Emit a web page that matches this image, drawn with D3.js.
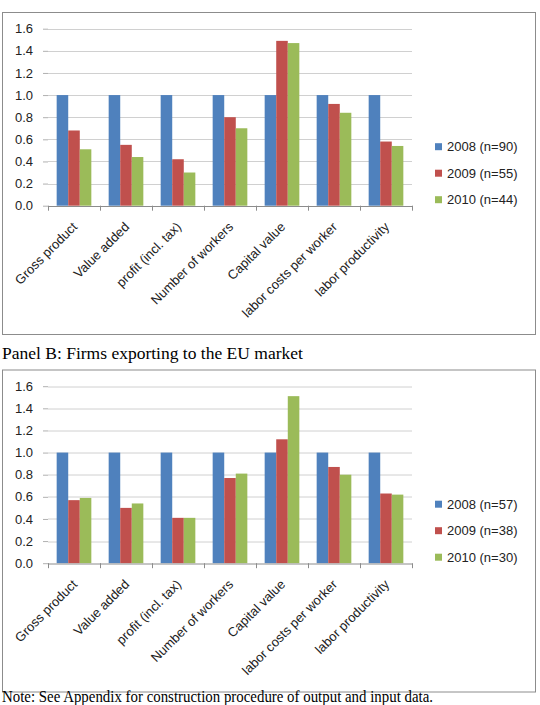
<!DOCTYPE html>
<html>
<head>
<meta charset="utf-8">
<script src="https://cdnjs.cloudflare.com/ajax/libs/d3/7.8.5/d3.min.js"></script>
<style>
  body { margin: 0; background: #fff; }
  svg { display: block; }
  .tick text, .lbl { font-family: "Liberation Sans", Arial, sans-serif; font-size: 13px; fill: #222; }
  .cap { font-family: "Liberation Serif", "Times New Roman", serif; fill: #000; }
</style>
</head>
<body>
<script>
var categories = ["Gross product", "Value added", "profit (incl. tax)", "Number of workers",
  "Capital value", "labor costs per worker", "labor productivity"];
var seriesKeys = ["2008", "2009", "2010"];
var colors = ["#4F81BD", "#C0504D", "#9BBB59"];
var yTicks = [0, 0.2, 0.4, 0.6, 0.8, 1.0, 1.2, 1.4, 1.6];

// Panel A
var a2008 = [1, 1, 1, 1, 1, 1, 1];
var a2009 = [0.68, 0.55, 0.42, 0.80, 1.49, 0.92, 0.58];
var a2010 = [0.51, 0.44, 0.30, 0.70, 1.47, 0.84, 0.54];
var legendA = ["2008 (n=90)", "2009 (n=55)", "2010 (n=44)"];

// Panel B
var b2008 = [1, 1, 1, 1, 1, 1, 1];
var b2009 = [0.57, 0.50, 0.41, 0.77, 1.12, 0.87, 0.63];
var b2010 = [0.59, 0.54, 0.41, 0.81, 1.51, 0.80, 0.62];
var legendB = ["2008 (n=57)", "2009 (n=38)", "2010 (n=30)"];

var W = 540, H = 705;
var svg = d3.select("body").append("svg").attr("width", W).attr("height", H);

var boxW = 533, boxH = 322;
var plotLeft = 46, plotRight = 410, plotTop = 16.7, plotBottom = 193.7;

function drawPanel(top, series, legend) {
  var g = svg.append("g").attr("transform", "translate(2," + top + ")");
  g.append("rect").attr("x", 0.5).attr("y", 0.5).attr("width", boxW).attr("height", boxH)
    .attr("fill", "#fff").attr("stroke", "#8c8c8c");

  var x = d3.scaleBand().domain(categories).range([plotLeft, plotRight]);
  var x1 = d3.scaleBand().domain(seriesKeys).range([0, x.bandwidth()]).paddingOuter(0.75);
  var y = d3.scaleLinear().domain([0, 1.6]).range([plotBottom, plotTop]);

  // gridlines
  g.append("g").selectAll("line").data(yTicks.slice(1)).join("line")
    .attr("x1", plotLeft).attr("x2", plotRight)
    .attr("y1", function (d) { return Math.round(y(d)) + 0.5; })
    .attr("y2", function (d) { return Math.round(y(d)) + 0.5; })
    .attr("stroke", "#d0d0d0");

  // y axis labels
  var yAxis = d3.axisLeft(y).tickValues(yTicks).tickFormat(d3.format(".1f")).tickSize(5).tickPadding(10);
  var ya = g.append("g").attr("transform", "translate(" + plotLeft + ",0)").call(yAxis);
  ya.select(".domain").remove();
  ya.selectAll(".tick line").attr("stroke", "#b0b0b0");

  // bars
  var rows = categories.map(function (c, i) {
    return { cat: c, vals: series.map(function (s) { return s[i]; }) };
  });
  var grp = g.append("g").selectAll("g").data(rows).join("g")
    .attr("transform", function (d) { return "translate(" + x(d.cat) + ",0)"; });
  grp.selectAll("rect").data(function (d) { return d.vals; }).join("rect")
    .attr("x", function (d, i) { return x1(seriesKeys[i]); })
    .attr("width", x1.bandwidth())
    .attr("y", function (d) { return y(d); })
    .attr("height", function (d) { return y(0) - y(d); })
    .attr("fill", function (d, i) { return colors[i]; });

  // x axis line and boundary ticks
  var ax = g.append("g");
  ax.append("line").attr("x1", plotLeft).attr("x2", plotRight)
    .attr("y1", Math.round(y(0)) + 0.5).attr("y2", Math.round(y(0)) + 0.5).attr("stroke", "#8c8c8c");
  var bounds = categories.map(function (c) { return x(c); }).concat([plotRight]);
  ax.selectAll("line.tk").data(bounds).join("line").attr("class", "tk")
    .attr("x1", function (d) { return Math.round(d) + 0.5; })
    .attr("x2", function (d) { return Math.round(d) + 0.5; })
    .attr("y1", y(0)).attr("y2", y(0) + 5).attr("stroke", "#8c8c8c");

  // rotated category labels
  g.append("g").selectAll("text").data(categories).join("text").attr("class", "lbl")
    .attr("text-anchor", "end")
    .attr("transform", function (d) {
      return "translate(" + (x(d) + x.bandwidth() / 2 + 4) + "," + (y(0) + 22) + ") rotate(-45)";
    })
    .text(function (d) { return d; });

  // legend
  var lg = g.append("g").selectAll("g").data(legend).join("g")
    .attr("transform", function (d, i) { return "translate(433," + (134.7 + i * 26.5) + ")"; });
  lg.append("rect").attr("x", 0).attr("y", -3.5).attr("width", 7).attr("height", 7)
    .attr("fill", function (d, i) { return colors[i]; });
  lg.append("text").attr("class", "lbl").attr("x", 12).attr("y", 4.5).text(function (d) { return d; });
}

drawPanel(12, [a2008, a2009, a2010], legendA);

svg.append("text").attr("class", "cap").attr("x", 2).attr("y", 359)
  .style("font-size", "17.5px")
  .text("Panel B: Firms exporting to the EU market");

drawPanel(369.5, [b2008, b2009, b2010], legendB);

svg.append("text").attr("class", "cap").attr("x", 2).attr("y", 702)
  .style("font-size", "16.5px")
  .attr("textLength", 431).attr("lengthAdjust", "spacingAndGlyphs")
  .text("Note: See Appendix for construction procedure of output and input data.");
</script>
</body>
</html>
